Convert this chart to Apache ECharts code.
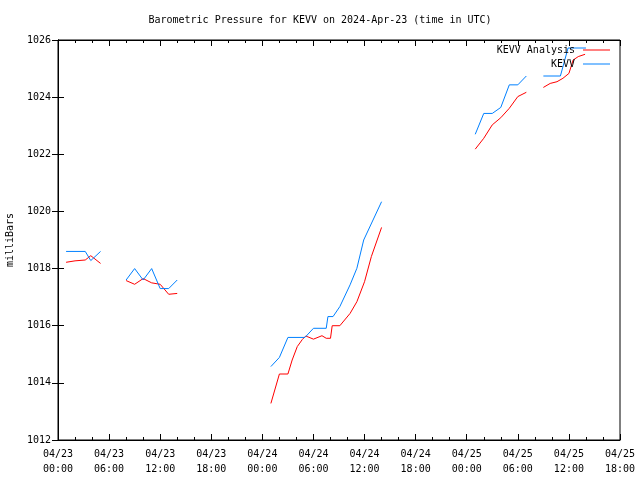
<!DOCTYPE html>
<html>
<head>
<meta charset="utf-8">
<script src="https://cdn.jsdelivr.net/npm/echarts@6/dist/echarts.min.js"></script>
<style>html,body{margin:0;padding:0;background:#fff;}#c{width:640px;height:480px;}</style>
</head>
<body>
<div id="c"></div>
<script>
// hours since 2024-04-23 00:00 UTC; null = gap
const analysisHours = [0.95, 2, 3.2, 3.85, 5.0, null,
  8, 9, 10, 11, 12, 13, 14, null,
  25, 26, 27, 27.5, 28.1, 28.7, 29.1, 30, 31, 31.5, 32, 32.2, 33.1, 34.3, 35.1, 36, 36.8, 38, null,
  49, 50, 51, 52, 53, 54, 55, null,
  57, 57.8, 58.6, 59.3, 60, 60.5, 61.1, 61.9];
const analysisValues = [1018.22, 1018.27, 1018.3, 1018.45, 1018.18, null,
  1017.58, 1017.45, 1017.65, 1017.5, 1017.45, 1017.1, 1017.13, null,
  1013.28, 1014.31, 1014.31, 1014.8, 1015.27, 1015.52, 1015.64, 1015.53, 1015.65, 1015.56, 1015.56, 1016.0, 1016.0, 1016.43, 1016.84, 1017.54, 1018.42, 1019.44, null,
  1022.18, 1022.56, 1023.03, 1023.28, 1023.61, 1024.02, 1024.17, null,
  1024.34, 1024.48, 1024.54, 1024.66, 1024.83, 1025.3, 1025.42, 1025.5];

const obsHours = [0.95, 3.2, 3.85, 5.0, null,
  8, 9, 10, 11, 12, 13, 14, null,
  25, 26, 27, 29, 30, 31.5, 31.7, 32.3, 33.1, 34.3, 35.1, 35.9, 38, null,
  49, 50, 51, 52, 53, 54, 55, null,
  57, 59, 59.9, 62];
const obsValues = [1018.6, 1018.6, 1018.28, 1018.6, null,
  1017.6, 1018.0, 1017.6, 1018.0, 1017.3, 1017.3, 1017.6, null,
  1014.57, 1014.89, 1015.59, 1015.59, 1015.91, 1015.91, 1016.32, 1016.32, 1016.67, 1017.43, 1018.01, 1019.0, 1020.34, null,
  1022.7, 1023.43, 1023.43, 1023.64, 1024.43, 1024.43, 1024.74, null,
  1024.74, 1024.74, 1025.72, 1025.72];

const xTickLabels = ['04/23\n00:00','04/23\n06:00','04/23\n12:00','04/23\n18:00',
  '04/24\n00:00','04/24\n06:00','04/24\n12:00','04/24\n18:00',
  '04/25\n00:00','04/25\n06:00','04/25\n12:00','04/25\n18:00'];

const FONT = 'DejaVu Sans Mono';
function pairs(h, v) {
  return h.map((x, i) => (x === null || v[i] === null) ? ['-', '-'] : [x, v[i]]);
}
const chart = echarts.init(document.getElementById('c'), null, {renderer: 'canvas'});
const tickStyle = {color: '#000', width: 1};
chart.setOption({
  animation: false,
  backgroundColor: '#fff',
  title: {
    text: 'Barometric Pressure for KEVV on 2024-Apr-23 (time in UTC)',
    left: 'center', top: 10,
    textStyle: {fontFamily: FONT, fontSize: 10, fontWeight: 'normal', color: '#000'}
  },
  legend: [
    {data: ['KEVV Analysis'], right: 30, top: 45, padding: 0, align: 'right', icon: 'rect', itemWidth: 27, itemHeight: 1,
     itemGap: 8, textStyle: {fontFamily: FONT, fontSize: 10, color: '#000', padding: [0, 3, 0, 0]}},
    {data: ['KEVV'], right: 30, top: 59, padding: 0, align: 'right', icon: 'rect', itemWidth: 27, itemHeight: 1,
     textStyle: {fontFamily: FONT, fontSize: 10, color: '#000', padding: [0, 3, 0, 0]}}
  ],
  grid: {left: 58, right: 20, top: 40, bottom: 40, containLabel: false, outerBoundsMode: 'none',
         show: true, borderColor: '#000', borderWidth: 1},
  xAxis: [
    {type: 'value', min: 0, max: 66, interval: 6, position: 'bottom',
     axisLine: {lineStyle: {color: '#000'}},
     axisTick: {inside: true, length: 6, lineStyle: tickStyle},
     minorTick: {show: true, splitNumber: 3, length: 3, lineStyle: tickStyle},
     splitLine: {show: false},
     axisLabel: {fontFamily: FONT, fontSize: 10, color: '#000', lineHeight: 15, margin: 7,
       formatter: v => xTickLabels[Math.round(v / 6)]}},
    {type: 'value', min: 0, max: 66, interval: 6, position: 'top',
     axisLine: {lineStyle: {color: '#000'}},
     axisTick: {inside: true, length: 6, lineStyle: tickStyle},
     minorTick: {show: true, splitNumber: 3, length: 3, lineStyle: tickStyle},
     splitLine: {show: false}, axisLabel: {show: false}}
  ],
  yAxis: [
    {type: 'value', min: 1012, max: 1026, interval: 2, position: 'left',
     name: 'milliBars', nameLocation: 'middle', nameRotate: 90, nameGap: 43,
     nameTextStyle: {fontFamily: FONT, fontSize: 10, color: '#000'},
     axisLine: {show: true, lineStyle: {color: '#000'}},
     axisTick: {show: true, inside: true, length: 6, lineStyle: tickStyle},
     splitLine: {show: false},
     axisLabel: {fontFamily: FONT, fontSize: 10, color: '#000', margin: 7, formatter: v => String(v)}},
    {type: 'value', min: 1012, max: 1026, interval: 2, position: 'right',
     axisLine: {show: true, lineStyle: {color: '#000'}},
     axisTick: {show: true, inside: true, length: 6, lineStyle: tickStyle},
     splitLine: {show: false}, axisLabel: {show: false}}
  ],
  series: [
    {name: 'KEVV Analysis', type: 'line', xAxisIndex: 0, yAxisIndex: 0,
     data: pairs(analysisHours, analysisValues), showSymbol: false, symbol: 'none',
     connectNulls: false, color: '#ff0000', lineStyle: {width: 1, color: '#ff0000'}},
    {name: 'KEVV', type: 'line', xAxisIndex: 0, yAxisIndex: 0,
     data: pairs(obsHours, obsValues), showSymbol: false, symbol: 'none',
     connectNulls: false, color: '#0080ff', lineStyle: {width: 1, color: '#0080ff'}}
  ]
});
</script>
</body>
</html>
